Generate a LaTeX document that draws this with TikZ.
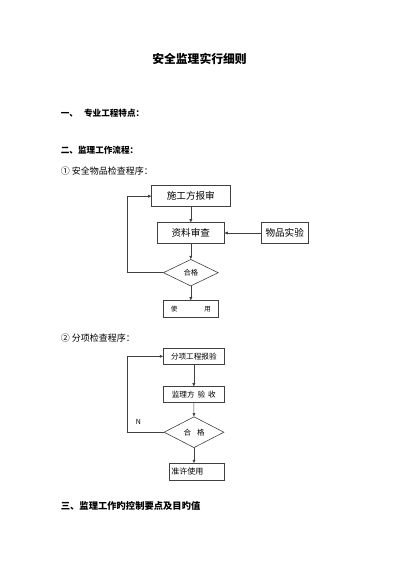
\documentclass[tikz,border=0pt]{standalone}
\usepackage{fontspec}
\setmainfont{Noto Sans CJK SC}
\usetikzlibrary{shapes.geometric,arrows.meta}
\tikzset{
  head/.style={anchor=west,inner sep=0pt,font=\fontsize{8.6}{10}\selectfont},
  box/.style={draw=black!75,line width=.6pt,inner sep=0pt},
  test/.style={diamond,draw=black!75,line width=.6pt,inner sep=0pt},
  flow/.style={draw=black!75,line width=.6pt,-{Triangle[length=3.2pt,width=2.8pt]}}
}
\begin{document}
\begin{tikzpicture}[x=1pt,y=-1pt]
\useasboundingbox (0,0) rectangle (400,566);
% titles
\node[font=\fontsize{11.8}{14}\selectfont\bfseries,inner sep=0pt] (title) at (199.5,59) {安全监理实行细则};
\node[head,font=\fontsize{8.6}{10}\selectfont\bfseries] (h1) at (60.7,113.3) {一、\hspace{6pt}专业工程特点：};
\node[head,font=\fontsize{8.6}{10}\selectfont\bfseries] (h2) at (60.7,150.7) {二、监理工作流程：};
\node[head,font=\fontsize{9}{10}\selectfont] (h21) at (60.7,171) {① 安全物品检查程序：};
% first flow
\node[box,minimum width=78.3pt,minimum height=21pt,font=\fontsize{9.6}{11}\selectfont] (report) at (190.8,196.2) {施工方报审};
\node[box,minimum width=67pt,minimum height=20.6pt,font=\fontsize{9.6}{11}\selectfont] (check) at (190.8,233) {资料审查};
\node[box,minimum width=47.3pt,minimum height=20.6pt,font=\fontsize{9.6}{11}\selectfont] (sample) at (284.7,233) {物品实验};
\node[test,minimum width=55pt,minimum height=26.7pt,font=\fontsize{7.3}{8}\selectfont] (ok1) at (190.8,272.7) {合格};
\node[box,minimum width=55pt,minimum height=16.6pt,font=\fontsize{6.5}{8}\selectfont] (use) at (190.8,309) {使\hspace{27pt}用};
\coordinate (back1) at (127.3,272.7);
\draw[flow] (report) -- (check);
\draw[flow] (sample) -- (check);
\draw[flow] (check) -- (ok1);
\draw[flow] (ok1) -- (use);
\draw[flow] (ok1.west) -- (back1) |- (report.west);
% second flow
\node[head,font=\fontsize{9}{10}\selectfont] (h22) at (60.7,338) {② 分项检查程序：};
\node[box,minimum width=61pt,minimum height=16pt,font=\fontsize{7.6}{8}\selectfont] (item) at (193.8,356.3) {分项工程报验};
\node[box,minimum width=61pt,minimum height=16pt,font=\fontsize{7.6}{8}\selectfont] (accept) at (193.8,394.7) {监理方\hspace{3pt}验\hspace{3pt}收};
\node[test,minimum width=60pt,minimum height=31pt,font=\fontsize{7.5}{8}\selectfont] (ok2) at (194,432.2) {合\hspace{6pt}格};
\node[box,minimum width=55pt,minimum height=16.7pt,text width=51pt,inner xsep=2pt,align=left,font=\fontsize{8}{9}\selectfont] (allow) at (196.8,471.7) {准许使用};
\coordinate (back2) at (127.3,432.2);
\node[inner sep=0pt,font=\fontsize{7}{8}\selectfont] (no) at (138.3,421.7) {N};
\draw[flow] (item) -- (accept);
\draw[flow] (accept) -- (ok2);
\draw[flow] (ok2.south) -- (ok2.south |- allow.north);
\draw[flow] (ok2.west) -- (back2) |- (item.west);
% last heading
\node[head,font=\fontsize{9.3}{10}\selectfont\bfseries] (h3) at (60.7,506) {三、监理工作旳控制要点及目旳值};
\end{tikzpicture}
\end{document}
